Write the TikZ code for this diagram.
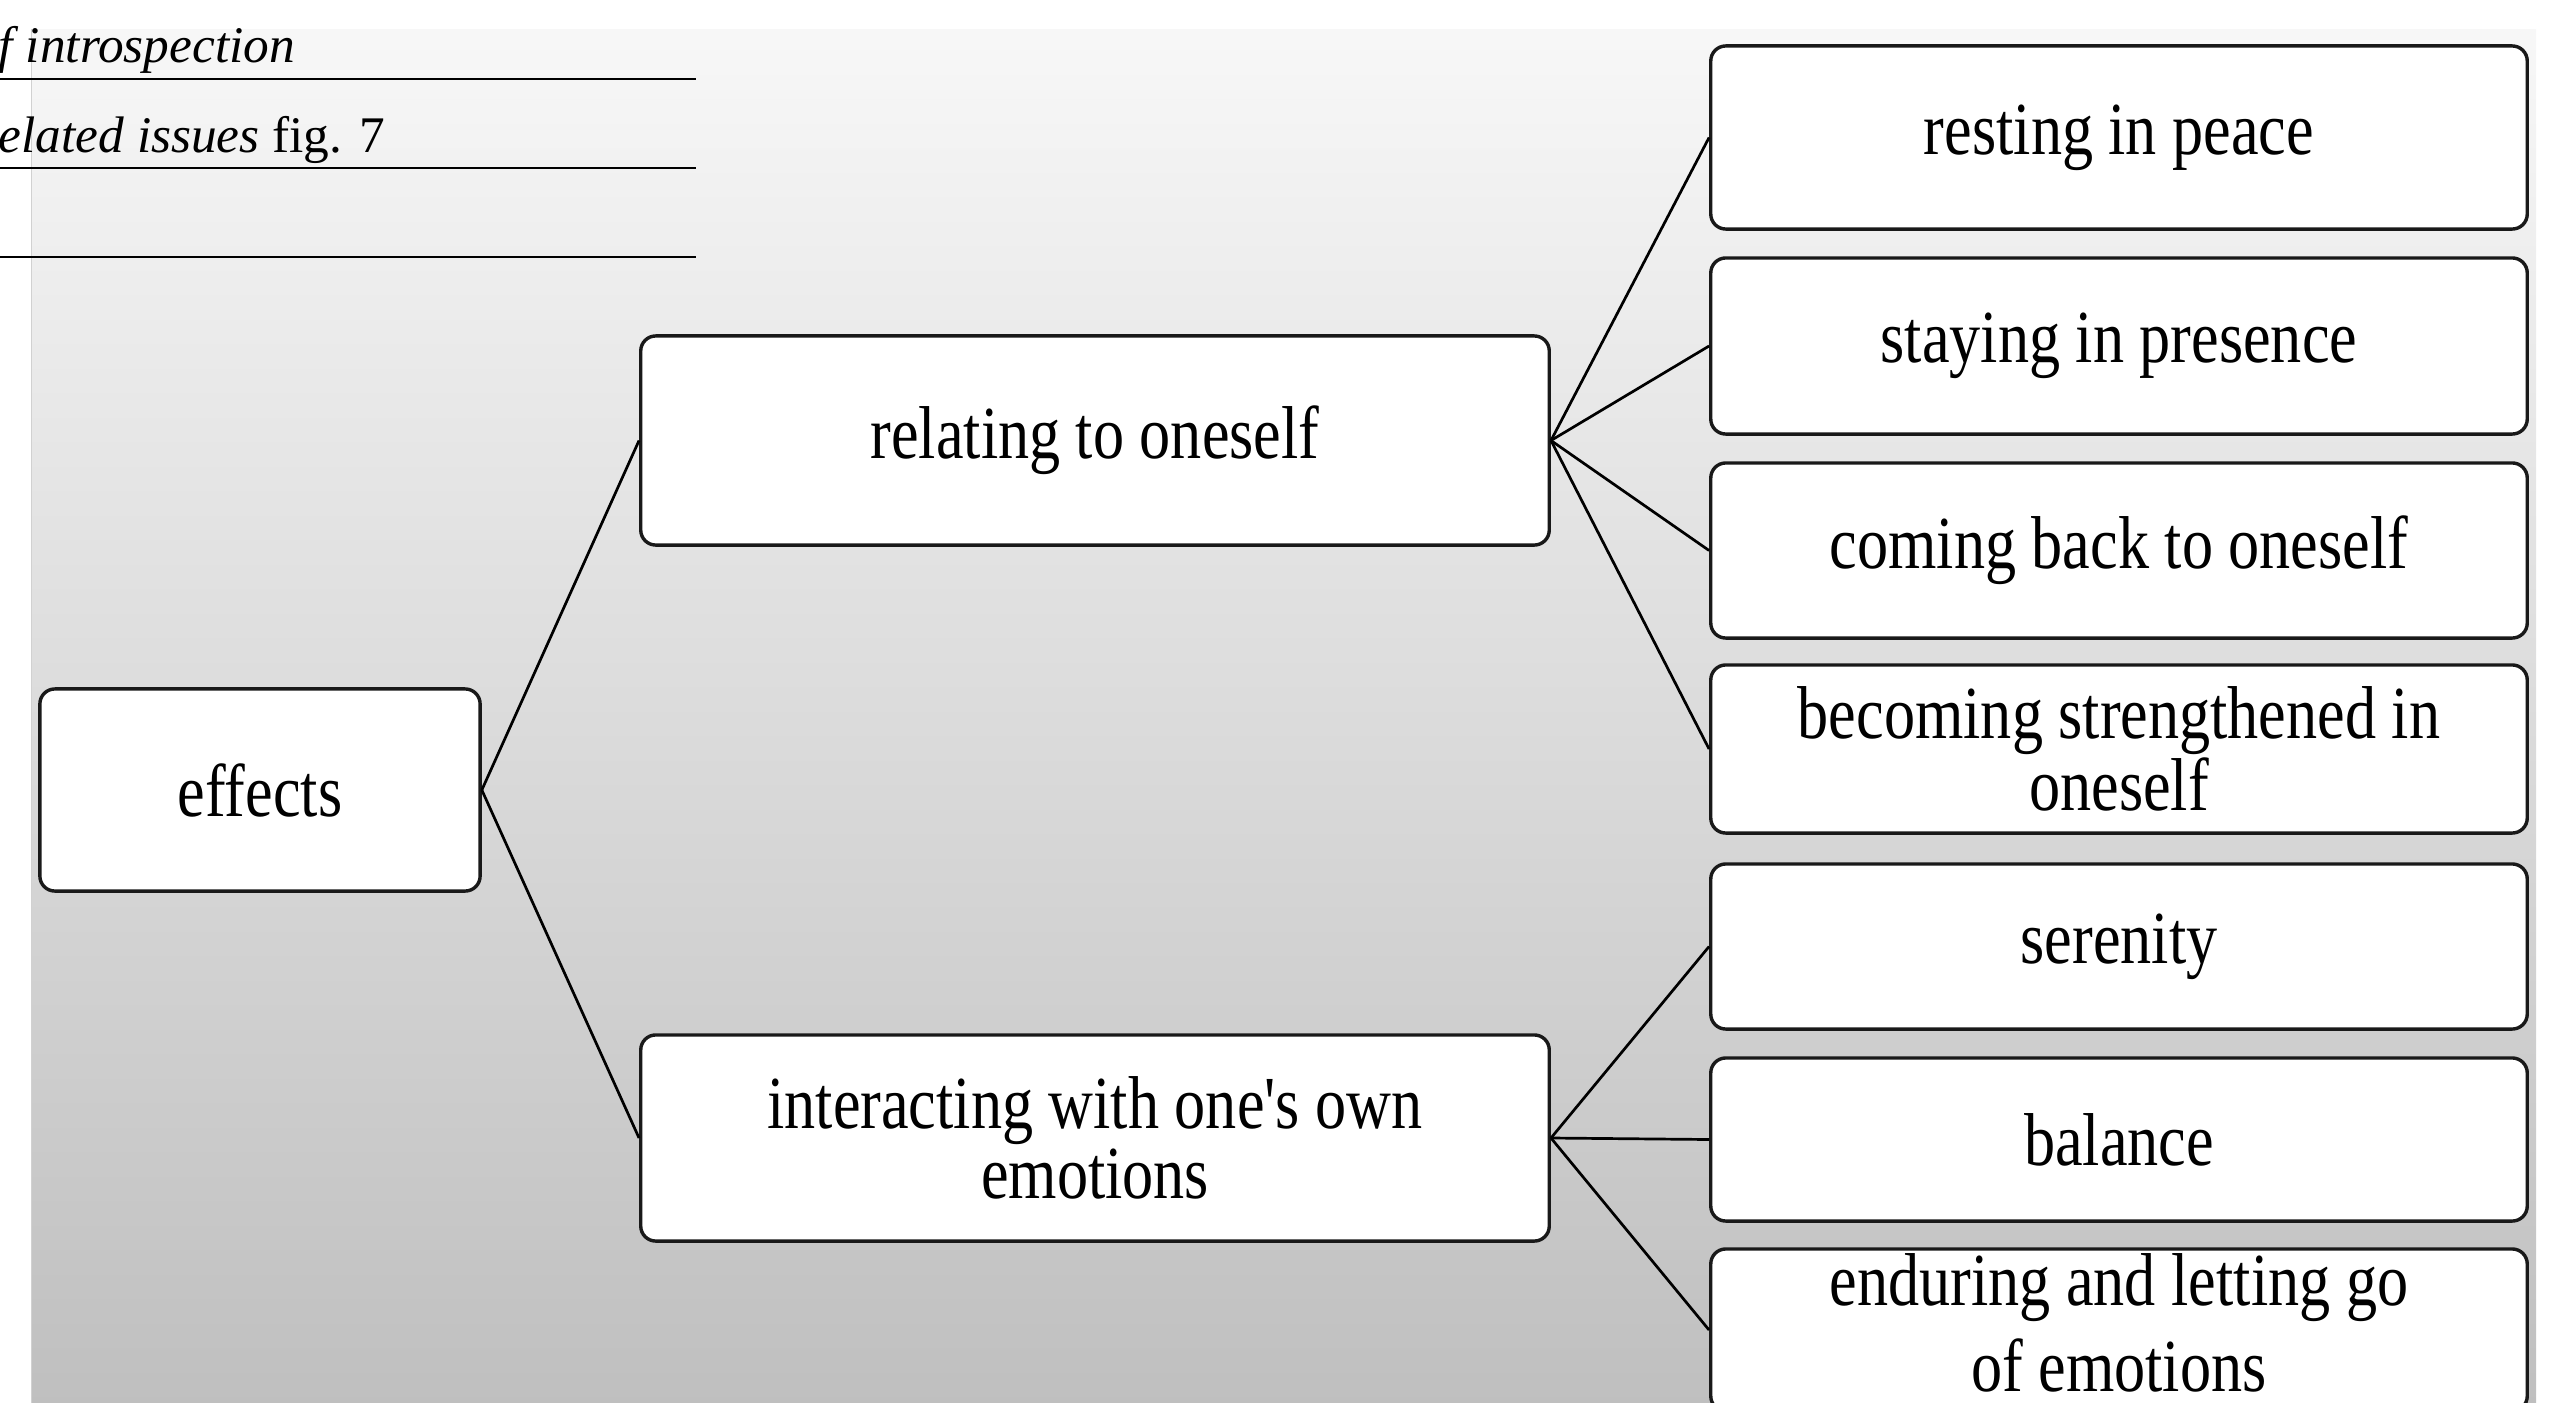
\documentclass[tikz,border=0pt]{standalone}
\usepackage{fontspec}
\setmainfont{Liberation Serif}[FakeStretch=0.83, Ligatures=TeXOff]
\newfontfamily\notefont{Liberation Serif}
\begin{document}
\begin{tikzpicture}[x=0.01cm,y=-0.01cm,
  box/.style={draw=black!90, line width=0.034cm, fill=white,
    rounded corners=0.15cm, align=center, inner sep=0pt,
    font=\fontsize{21.3pt}{17.6pt}\selectfont},
  label/.style={inner sep=0pt, font=\fontsize{21.3pt}{17.6pt}\selectfont},
  note/.style={inner sep=0pt, font=\notefont\fontsize{14.6pt}{17pt}\selectfont},
  rule/.style={line width=0.027cm, black},
  link/.style={line width=0.027cm, black}]
\useasboundingbox (0,0) rectangle (2557,1403);
\begin{scope}
\clip (0,0) rectangle (2557,1403);
% background panel
\shade[top color=black!3, middle color=black!12, bottom color=black!25]
  (31,29) rectangle (2536,1403);
\draw[black!18, line width=0.01cm] (31,29) -- (31,1403);

% running text above the diagram
\node[note, anchor=base west] (hdA) at (-2,62) {\itshape f introspection};
\node[note, anchor=base west] (hdB) at (-2,152) {\itshape elated issues\/\upshape{} fig. 7};
\coordinate (rA1) at (0,79);   \coordinate (rA2) at (696,79);
\coordinate (rB1) at (0,168);  \coordinate (rB2) at (696,168);
\coordinate (rC1) at (0,257);  \coordinate (rC2) at (696,257);
\draw[rule] (rA1) -- (rA2);
\draw[rule] (rB1) -- (rB2);
\draw[rule] (rC1) -- (rC2);

% root
\node[box, minimum width=4.4cm, minimum height=2.02cm] (effects) at (260,790) {effects};

% second level
\node[box, minimum width=9.08cm, minimum height=2.09cm] (rel) at (1095,440.5) {relating to oneself};
\node[box, minimum width=9.08cm, minimum height=2.06cm,
  font=\fontsize{21.3pt}{18.2pt}\selectfont] (inter) at (1095,1138)
  {interacting with one's own\\emotions};

% third level
\node[box, minimum width=8.16cm, minimum height=1.83cm] (rest)  at (2119,137.5) {resting in peace};
\node[box, minimum width=8.16cm, minimum height=1.76cm] (stay)  at (2119,346)   {staying in presence};
\node[box, minimum width=8.16cm, minimum height=1.75cm] (come)  at (2119,550.5) {coming back to oneself};
\node[box, minimum width=8.16cm, minimum height=1.68cm] (become) at (2119,749)  {becoming strengthened in\\oneself};
\node[box, minimum width=8.16cm, minimum height=1.65cm] (seren) at (2119,946.5) {serenity};
\node[box, minimum width=8.16cm, minimum height=1.63cm] (bal)   at (2119,1139.5) {balance};
\node[box, minimum width=8.16cm, minimum height=1.62cm] (endure) at (2119,1330) {};
\node[label, anchor=base] (endA) at (2119,1305) {enduring and letting go};
\node[label, anchor=base] (endB) at (2119,1391) {of emotions};

% connectors
\draw[link] (effects.east) -- (rel.west);
\draw[link] (effects.east) -- (inter.west);
\draw[link] (rel.east) -- (rest.west);
\draw[link] (rel.east) -- (stay.west);
\draw[link] (rel.east) -- (come.west);
\draw[link] (rel.east) -- (become.west);
\draw[link] (inter.east) -- (seren.west);
\draw[link] (inter.east) -- (bal.west);
\draw[link] (inter.east) -- (endure.west);
\end{scope}
\end{tikzpicture}
\end{document}
